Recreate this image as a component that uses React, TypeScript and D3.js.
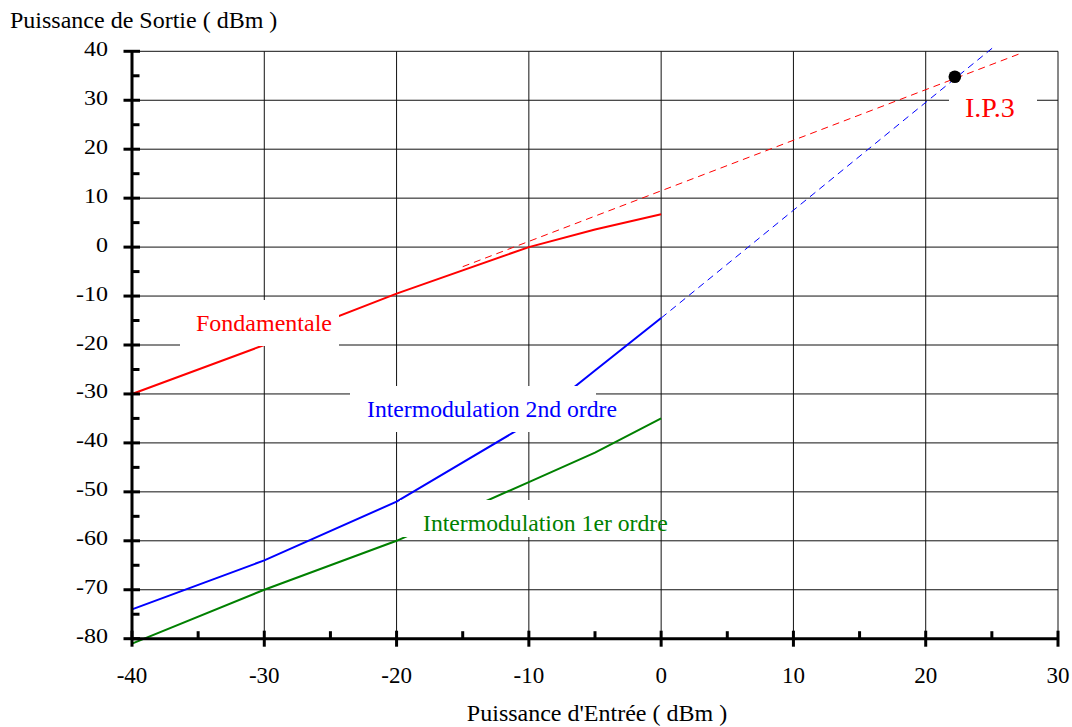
import React from "react";
import * as d3 from "d3";

const inputPower = [-40, -30, -20, -10, -5, 0];
const fondamentale = [-30, -20, -9.5, 0, 3.6, 6.7];
const intermod2 = [-74, -64, -52, -36, -25.2, -14.5];
const intermod1 = [-81, -70, -60, -48, -42, -35];

const fondExtrap: [number, number][] = [[-15, -4], [27.3, 39.7]];
const im2Extrap: [number, number][] = [[0, -14.5], [25.1, 40.8]];
const ip3Point: [number, number] = [22.2, 34.8];

const xMajor = [-40, -30, -20, -10, 0, 10, 20, 30];
const xMinor = [-35, -25, -15, -5, 5, 15, 25];
const yMajor = [40, 30, 20, 10, 0, -10, -20, -30, -40, -50, -60, -70, -80];
const yMinor = [35, 25, 15, 5, -5, -15, -25, -35, -45, -55, -65, -75];

const W = 1072;
const H = 727;
const FONT = "'Liberation Serif', 'Times New Roman', serif";

export default function App() {
  const x = d3.scaleLinear().domain([-40, 30]).range([132, 1058]);
  const y = d3.scaleLinear().domain([-80, 40]).range([638.7, 51.3]);
  const line = d3
    .line<[number, number]>()
    .x((d) => x(d[0]))
    .y((d) => y(d[1]));
  const zip = (vals: number[]) => inputPower.map((p, i) => [p, vals[i]] as [number, number]);

  const x0 = x(-40);
  const x1 = x(30);
  const yTop = y(40);
  const yBot = y(-80);

  return (
    <svg
      width={W}
      height={H}
      style={{ position: "absolute", left: 0, top: 0, background: "#fff" }}
      fontFamily={FONT}
    >
      <rect x={0} y={0} width={W} height={H} fill="#fff" />
      {/* grid */}
      <g stroke="#111" strokeWidth={1}>
        {xMajor.map((v) => (
          <line key={"gx" + v} x1={x(v)} x2={x(v)} y1={yTop} y2={yBot} />
        ))}
        {yMajor.map((v) => (
          <line key={"gy" + v} x1={x0} x2={x1} y1={y(v)} y2={y(v)} />
        ))}
      </g>
      {/* extrapolation lines */}
      <path d={line(fondExtrap) || ""} fill="none" stroke="#ff0000" strokeWidth={1} strokeDasharray="7,5" />
      <path d={line(im2Extrap) || ""} fill="none" stroke="#0000ff" strokeWidth={1} strokeDasharray="7,5" />
      {/* data lines */}
      <path d={line(zip(fondamentale)) || ""} fill="none" stroke="#ff0000" strokeWidth={2} />
      <path d={line(zip(intermod2)) || ""} fill="none" stroke="#0000ff" strokeWidth={2} />
      <path d={line(zip(intermod1)) || ""} fill="none" stroke="#008000" strokeWidth={2} />
      {/* label backgrounds */}
      <rect x={180} y={300} width={159} height={46} fill="#fff" />
      <rect x={350} y={386} width={246} height={46} fill="#fff" />
      <rect x={400} y={500} width={255} height={37} fill="#fff" />
      <rect x={949} y={92} width={88} height={36} fill="#fff" />
      {/* axes */}
      <g stroke="#000" strokeWidth={3}>
        <line x1={x0} x2={x0} y1={yTop} y2={yBot} />
        <line x1={x0} x2={x1} y1={yBot} y2={yBot} />
        {xMajor.map((v) => (
          <line key={"tx" + v} x1={x(v)} x2={x(v)} y1={yBot - 8} y2={yBot + 8} />
        ))}
        {xMinor.map((v) => (
          <line key={"mx" + v} x1={x(v)} x2={x(v)} y1={yBot - 7.5} y2={yBot} />
        ))}
        {yMajor.map((v) => (
          <line key={"ty" + v} x1={x0 - 8.5} x2={x0 + 8} y1={y(v)} y2={y(v)} />
        ))}
        {yMinor.map((v) => (
          <line key={"my" + v} x1={x0} x2={x0 + 7.5} y1={y(v)} y2={y(v)} />
        ))}
      </g>
      {/* tick labels */}
      <g fontSize={23} fill="#000">
        {xMajor.map((v) => (
          <text key={"lx" + v} x={x(v)} y={yBot + 44} textAnchor="middle">
            {v}
          </text>
        ))}
      </g>
      <g fontSize={24} fill="#000">
        {yMajor.map((v) => (
          <text
            key={"ly" + v}
            textAnchor="end"
            transform={`translate(108,${y(v) + 4.5}) scale(1,0.86)`}
          >
            {v}
          </text>
        ))}
      </g>
      {/* axis titles */}
      <text x={10} y={28} fontSize={24} fill="#000">
        Puissance de Sortie ( dBm )
      </text>
      <text x={597} y={721} fontSize={24} fill="#000" textAnchor="middle">
        Puissance d'Entrée ( dBm )
      </text>
      {/* series labels */}
      <text x={196} y={331} fontSize={24} fill="#ff0000">
        Fondamentale
      </text>
      <text x={367} y={416.5} fontSize={23.7} fill="#0000ff">
        Intermodulation 2nd ordre
      </text>
      <text x={423} y={531} fontSize={23.7} fill="#008000">
        Intermodulation 1er ordre
      </text>
      <text x={965} y={117} fontSize={28} fill="#ff0000">
        I.P.3
      </text>
      <circle cx={x(ip3Point[0])} cy={y(ip3Point[1])} r={6.3} fill="#000" />
    </svg>
  );
}
